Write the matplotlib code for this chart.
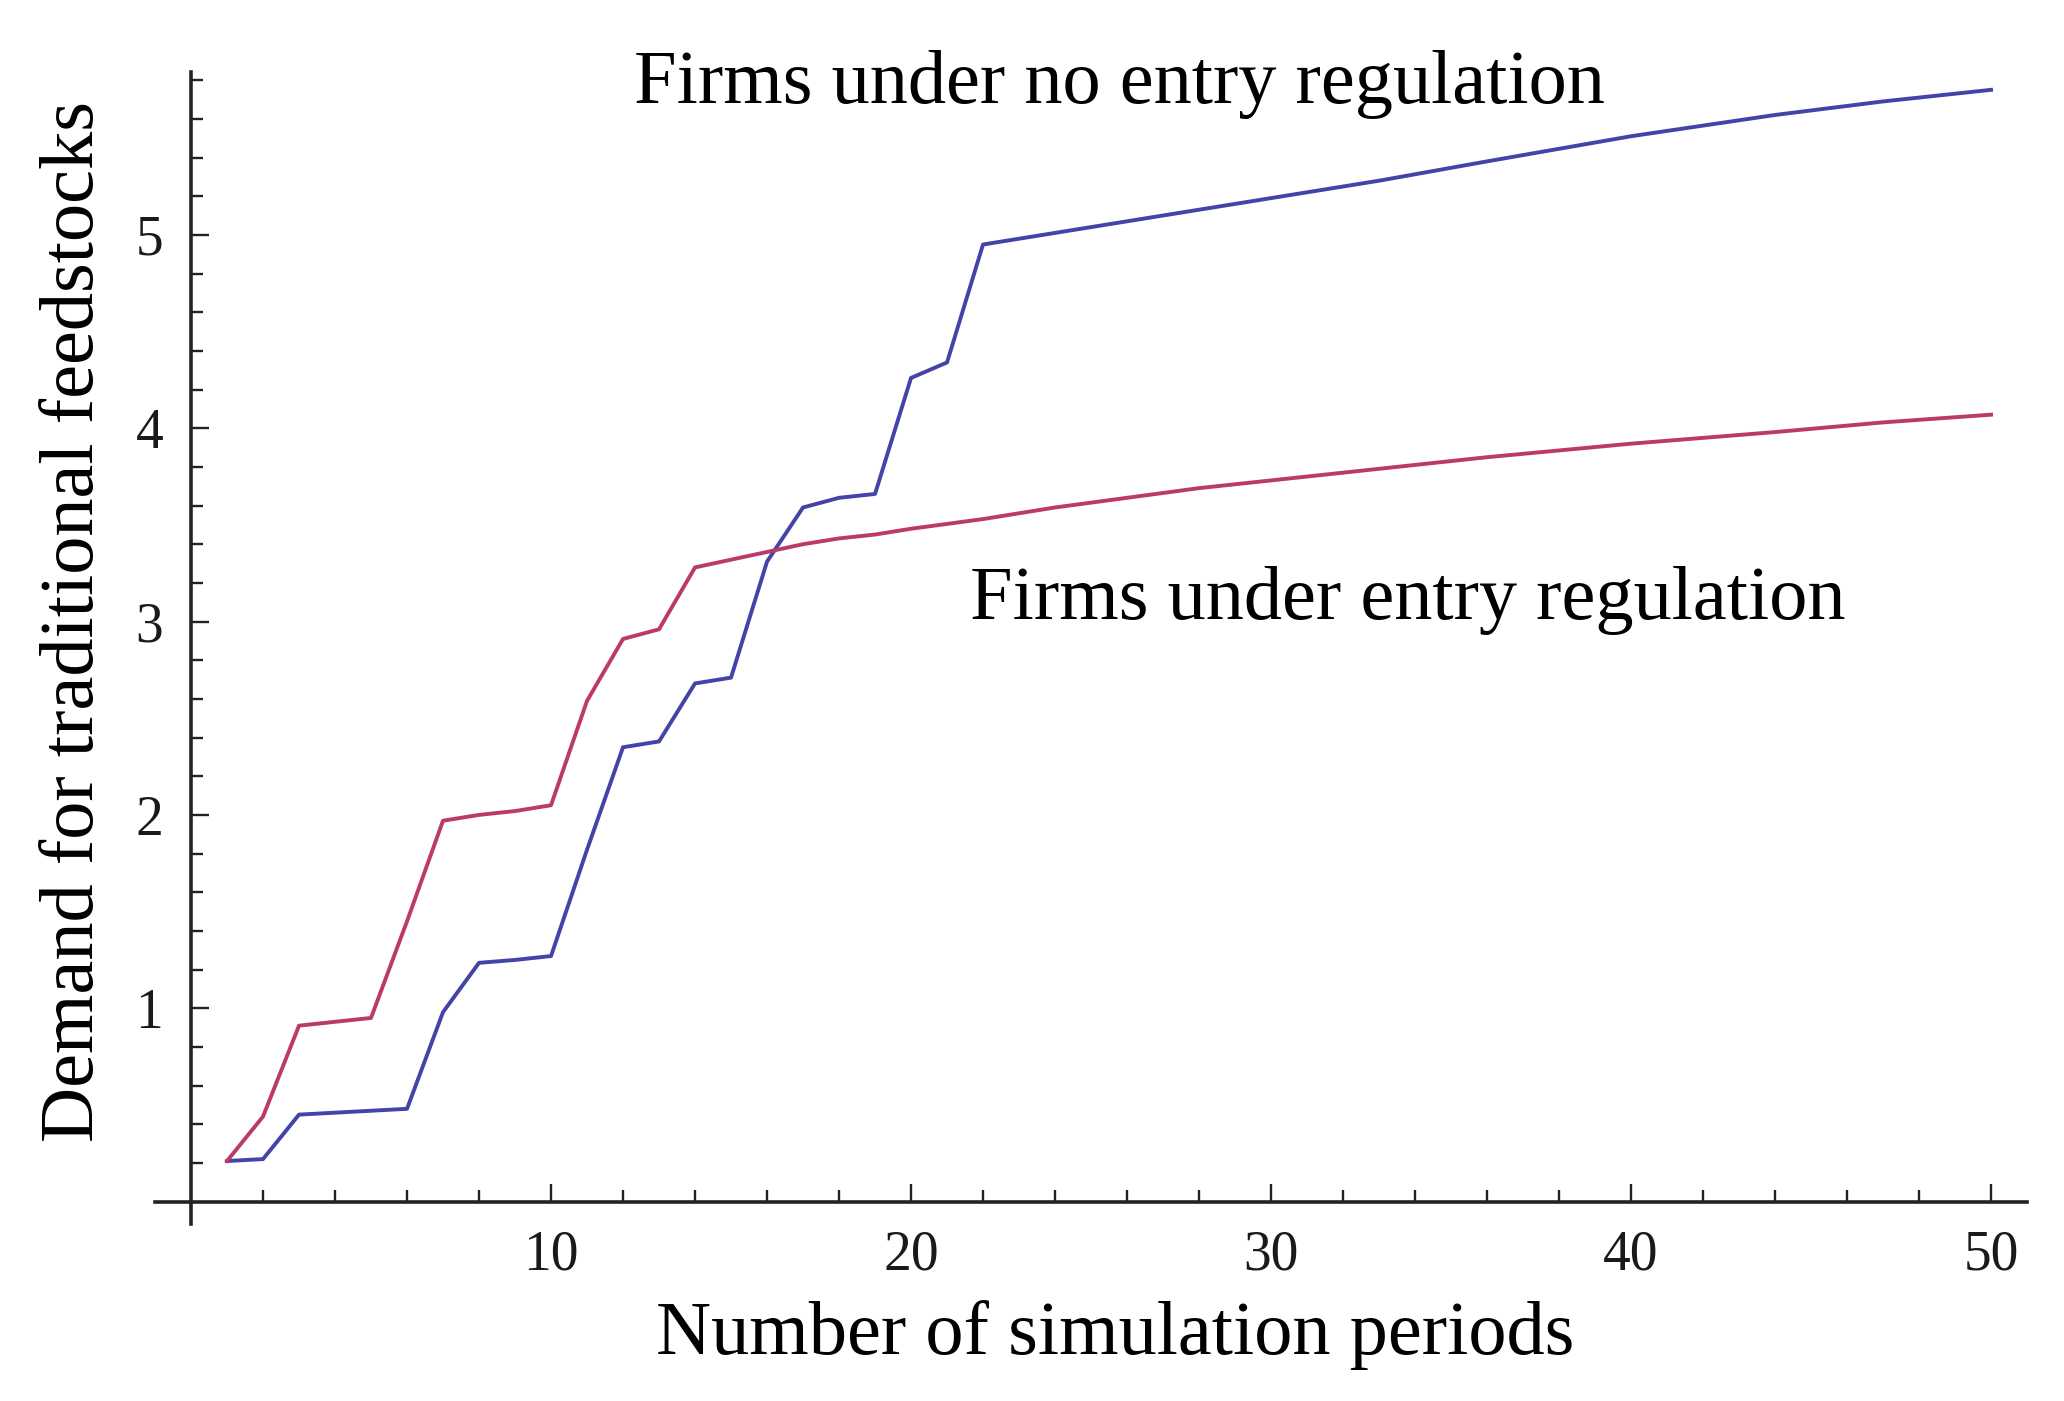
import numpy as np
import matplotlib
matplotlib.use("Agg")
import matplotlib.pyplot as plt
from matplotlib.ticker import FixedLocator

# data
x_reg = [1, 2, 3, 4, 5, 6, 7, 8, 9, 10, 11, 12, 13, 14, 15, 16, 17, 18, 19, 20,
         22, 24, 26, 28, 30, 33, 36, 40, 44, 47, 50]
y_reg = [0.21, 0.44, 0.91, 0.93, 0.95, 1.45, 1.97, 2.00, 2.02, 2.05, 2.59, 2.91,
         2.96, 3.28, 3.32, 3.36, 3.40, 3.43, 3.45, 3.48, 3.53, 3.59, 3.64, 3.69,
         3.73, 3.79, 3.85, 3.92, 3.98, 4.03, 4.07]

x_noreg = [1, 2, 3, 4, 5, 6, 7, 8, 9, 10, 11, 12, 13, 14, 15, 16, 17, 18, 19, 20,
           21, 22, 25, 28, 30, 33, 36, 40, 44, 47, 50]
y_noreg = [0.21, 0.22, 0.45, 0.46, 0.47, 0.48, 0.98, 1.235, 1.25, 1.27, 1.82,
           2.35, 2.38, 2.68, 2.71, 3.31, 3.59, 3.64, 3.66, 4.26, 4.34, 4.95, 5.04,
           5.13, 5.19, 5.28, 5.38, 5.51, 5.62, 5.69, 5.75]

x_major = [10, 20, 30, 40, 50]
x_minor = [2, 4, 6, 8, 12, 14, 16, 18, 22, 24, 26, 28, 32, 34, 36, 38, 42, 44, 46, 48]
y_major = [1, 2, 3, 4, 5]
y_minor = [0.2, 0.4, 0.6, 0.8, 1.2, 1.4, 1.6, 1.8, 2.2, 2.4, 2.6, 2.8, 3.2, 3.4,
           3.6, 3.8, 4.2, 4.4, 4.6, 4.8, 5.2, 5.4, 5.6, 5.8]

label_noreg = "Firms under no entry regulation"
label_reg = "Firms under entry regulation"

plt.rcParams["font.family"] = ["Liberation Serif", "DejaVu Serif"]

c_blue = "#4343a8"
c_red = "#bb3a6a"
fs = 55

fig = plt.figure(figsize=(20.64, 14.01), dpi=100)
ax = fig.add_axes([0.0751, 0.1263, 0.907, 0.822])

# curves
ax.plot(x_noreg, y_noreg, color=c_blue, lw=2.8)
ax.plot(x_reg, y_reg, color=c_red, lw=2.8)

ax.set_xlim(-1, 51)
ax.set_ylim(-0.116, 5.84)

# mathematica-style axes crossing at the origin
for side in ["top", "right"]:
    ax.spines[side].set_visible(False)
ax.spines["left"].set_position(("data", 0))
ax.spines["bottom"].set_position(("data", 0))
for side in ["left", "bottom"]:
    ax.spines[side].set_linewidth(2.6)
    ax.spines[side].set_color("#222222")

ax.xaxis.set_major_locator(FixedLocator(x_major))
ax.xaxis.set_minor_locator(FixedLocator(x_minor))
ax.yaxis.set_major_locator(FixedLocator(y_major))
ax.yaxis.set_minor_locator(FixedLocator(y_minor))

ax.tick_params(which="major", direction="in", length=13, width=1.7, color="#222222",
               labelsize=40, labelcolor="#1a1a1a")
ax.tick_params(which="minor", direction="in", length=8.5, width=1.7, color="#222222")
ax.tick_params(axis="x", which="major", pad=20)
ax.tick_params(axis="y", which="major", pad=20)

# axis labels
ax.set_xlabel("Number of simulation periods", fontsize=fs, va="center")
ax.xaxis.set_label_coords(0.513, -0.096)
ax.set_ylabel("Demand for traditional feedstocks", fontsize=fs, va="center")
ax.yaxis.set_label_coords(-0.043, 0.523)

# curve annotations
ax.text(25.8, 5.78, label_noreg, fontsize=fs, ha="center", va="center")
ax.text(33.8, 3.11, label_reg, fontsize=fs, ha="center", va="center")

fig.savefig("out.png", dpi=100)
